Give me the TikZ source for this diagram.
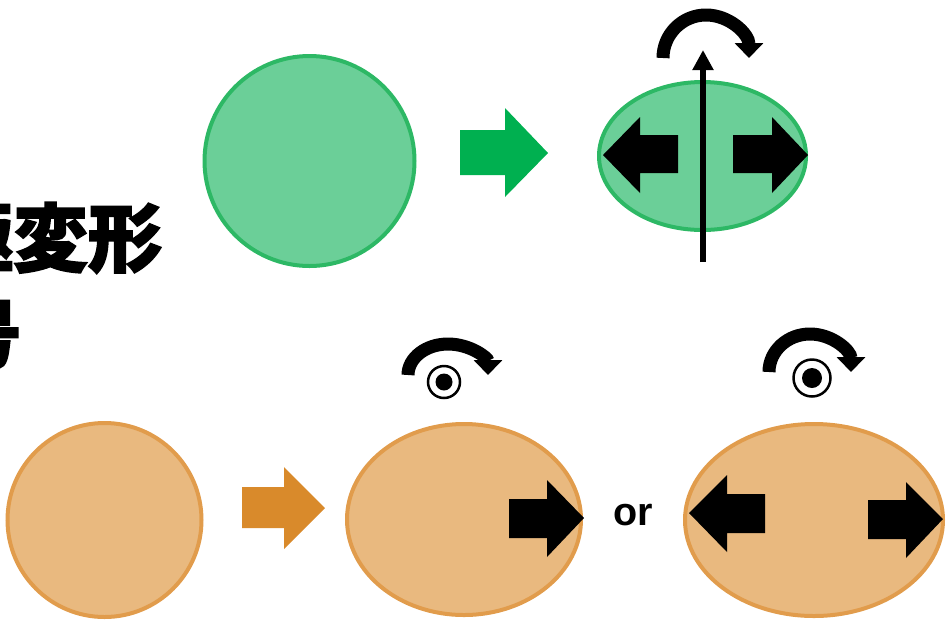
\documentclass[tikz,border=0pt]{standalone}
\usepackage{fontspec}
\newfontfamily\cjk{Noto Sans CJK JP}[BoldFeatures={FakeBold=2}]
\newfontfamily\orfont{Liberation Sans}
\usetikzlibrary{arrows.meta}
\definecolor{gfill}{HTML}{6BCF98}
\definecolor{gline}{HTML}{2DB865}
\definecolor{garrow}{HTML}{00B050}
\definecolor{ofill}{HTML}{E9B97F}
\definecolor{oline}{HTML}{E19C4C}
\definecolor{oarrow}{HTML}{D98A2B}
\begin{document}
\begin{tikzpicture}[x=0.02cm,y=-0.02cm,
  gshape/.style={fill=gfill,draw=gline,line width=0.08cm},
  oshape/.style={fill=ofill,draw=oline,line width=0.08cm},
  blk/.style={fill=black},
  rot/.style={line width=0.26cm,line cap=butt,-{Triangle[length=0.3cm,width=0.56cm]}},
  ring/.style={draw=black,line width=0.05cm},
  cjktext/.style={inner sep=0pt,font=\cjk\bfseries\fontsize{42.5pt}{50pt}\selectfont},
  ortext/.style={inner sep=0pt,font=\orfont\bfseries\fontsize{22.5pt}{26pt}\selectfont}]
\useasboundingbox (0,0) rectangle (947,620);

% left text (clipped at the left edge, as in the reference)
\node[cjktext,anchor=base east] (t1) at (163,266) {四重極変形};
\node[cjktext,anchor=base east] (t2) at (22,362) {符号};

% top row
\draw[gshape] (309.5,161) circle[radius=105];
\fill[garrow] (460,130) -- (505,130) -- (505,108) -- (548,153) -- (505,197) -- (505,175) -- (460,175) -- cycle;
\draw[gshape] (702.5,156) ellipse[x radius=103.5,y radius=74];
\fill[blk] (603,155) -- (640,117) -- (640,135) -- (678,135) -- (678,173) -- (640,173) -- (640,193) -- cycle;
\fill[blk] (808,155) -- (772,117) -- (772,135) -- (733,135) -- (733,173) -- (772,173) -- (772,193) -- cycle;
\coordinate (axb) at (703,262);
\coordinate (axt) at (703,50);
\draw[line width=0.11cm,-{Triangle[length=0.4cm,width=0.4cm]}] (axb) -- (axt);
\draw[rot] (663,58) arc[start angle=180,end angle=360,x radius=43,y radius=43];

% bottom row
\draw[oshape] (104.5,520) circle[radius=97];
\fill[oarrow] (242,487) -- (284,487) -- (284,467) -- (325,508) -- (284,549) -- (284,528) -- (242,528) -- cycle;

\draw[oshape] (464,519.5) ellipse[x radius=117,y radius=95.5];
\fill[blk] (584,518) -- (547,480) -- (547,499) -- (509,499) -- (509,538) -- (547,538) -- (547,557) -- cycle;
\draw[rot] (408,375) arc[start angle=180,end angle=360,x radius=40,y radius=31];
\draw[ring] (444,382) circle[radius=16];
\fill (444,382) circle[radius=8.5];

\node[ortext,anchor=base] (or) at (633,525) {or};

\draw[oshape] (814,520) ellipse[x radius=129,y radius=96];
\fill[blk] (689,513) -- (727,475) -- (727,494) -- (765,494) -- (765,533) -- (727,533) -- (727,552) -- cycle;
\fill[blk] (943,519) -- (906,482) -- (906,500) -- (868,500) -- (868,539) -- (906,539) -- (906,558) -- cycle;
\draw[rot] (769,372) arc[start angle=180,end angle=360,x radius=41,y radius=38];
\draw[ring] (812,378) circle[radius=18.5];
\fill (812,378) circle[radius=10];
\end{tikzpicture}
\end{document}
